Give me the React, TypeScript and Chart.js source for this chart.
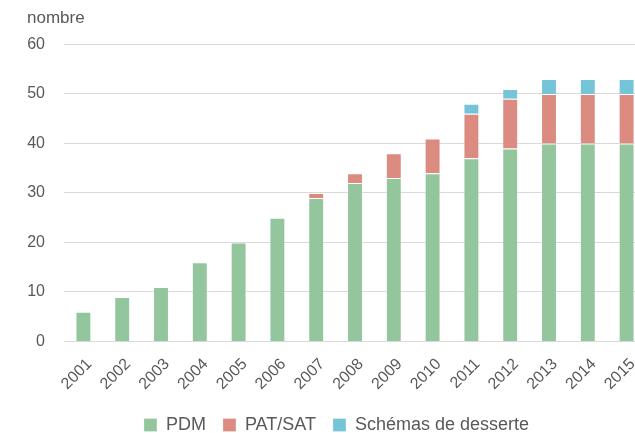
import React, { useEffect, useRef } from "react";
import { Chart, registerables } from "chart.js";

Chart.register(...registerables);

const years = ["2001", "2002", "2003", "2004", "2005", "2006", "2007", "2008", "2009", "2010", "2011", "2012", "2013", "2014", "2015"];
const pdm = [6, 9, 11, 16, 20, 25, 29, 32, 33, 34, 37, 39, 40, 40, 40];
const patSat = [0, 0, 0, 0, 0, 0, 1, 2, 5, 7, 9, 10, 10, 10, 10];
const schemas = [0, 0, 0, 0, 0, 0, 0, 0, 0, 0, 2, 2, 3, 3, 3];
const yTicks = [0, 10, 20, 30, 40, 50, 60];

const FONT = "'Liberation Sans', Arial, Helvetica, sans-serif";
const TEXT = "#595959";
const EDGE = "rgba(255,255,255,0.25)";

export default function App() {
  const ref = useRef<HTMLCanvasElement | null>(null);

  useEffect(() => {
    const canvas = ref.current;
    if (!canvas) return;
    const chart = new Chart(canvas, {
      type: "bar",
      data: {
        labels: years,
        datasets: [
          { label: "PDM", data: pdm, backgroundColor: "#93c69d", borderColor: EDGE, borderWidth: 1 },
          { label: "PAT/SAT", data: patSat, backgroundColor: "#db8b80", borderColor: EDGE, borderWidth: 1 },
          { label: "Schémas de desserte", data: schemas, backgroundColor: "#76c4d8", borderColor: EDGE, borderWidth: 1 },
        ],
      },
      options: {
        responsive: false,
        animation: false,
        devicePixelRatio: 1,
        datasets: { bar: { categoryPercentage: 1, barPercentage: 0.41 } },
        layout: { padding: { left: 19, right: 2, top: 0, bottom: 0 } },
        plugins: {
          title: {
            display: true,
            text: "nombre",
            align: "start",
            color: TEXT,
            font: { family: FONT, size: 17, weight: "normal" },
            padding: { top: 0, bottom: 16 },
          },
          legend: {
            position: "bottom",
            labels: {
              boxWidth: 13,
              boxHeight: 13,
              padding: 17,
              color: TEXT,
              font: { family: FONT, size: 18 },
            },
          },
          tooltip: { enabled: false },
        },
        scales: {
          x: {
            stacked: true,
            grid: { display: false },
            border: { display: false },
            afterFit: (scale: any) => {
              scale.paddingLeft = 0;
              scale.paddingRight = 0;
            },
            ticks: {
              autoSkip: false,
              maxRotation: 45,
              minRotation: 45,
              padding: 6.5,
              labelOffset: 6,
              color: TEXT,
              font: { family: FONT, size: 16, lineHeight: 1 },
            },
          },
          y: {
            stacked: true,
            min: yTicks[0],
            max: yTicks[yTicks.length - 1],
            afterBuildTicks: (scale: any) => {
              scale.ticks = yTicks.map((v) => ({ value: v }));
            },
            afterFit: (scale: any) => {
              scale.width = 37;
            },
            grid: { color: "#d9d9d9", lineWidth: 1, drawTicks: false },
            border: { display: false },
            ticks: {
              padding: 19,
              color: TEXT,
              font: { family: FONT, size: 16 },
            },
          },
        },
      },
    });
    return () => chart.destroy();
  }, []);

  return (
    <div
      style={{
        position: "fixed",
        left: 0,
        top: 0,
        width: 635,
        height: 433,
        overflow: "hidden",
      }}
    >
      <canvas
        ref={ref}
        width={640}
        height={436}
        style={{ display: "block", marginLeft: 8, marginTop: 8 }}
      />
    </div>
  );
}
